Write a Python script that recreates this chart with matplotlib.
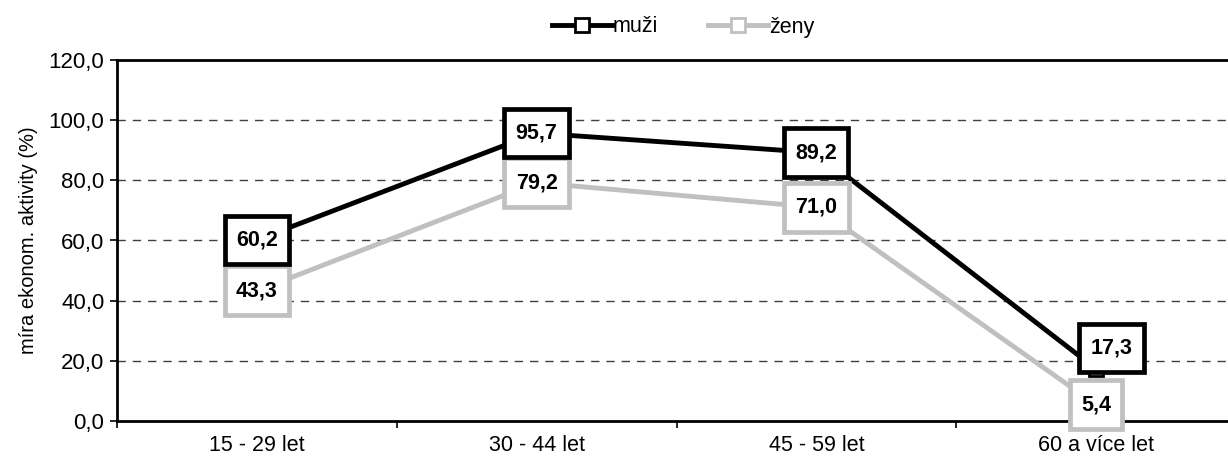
import matplotlib
matplotlib.use('Agg')
import matplotlib.pyplot as plt
from matplotlib.lines import Line2D
from matplotlib.path import Path

#-----Data-----#
categories = ['15 - 29 let', '30 - 44 let', '45 - 59 let', '60 a více let']
muzi = [60.2, 95.7, 89.2, 17.3]
zeny = [43.3, 79.2, 71.0, 5.4]
yticks = [0, 20, 40, 60, 80, 100, 120]

plt.rcParams['font.family'] = ['Liberation Sans', 'DejaVu Sans']

GRAY = '#c0c0c0'
FS = 15.5

# rectangular label box, wider padding vertically than horizontally
def tall_box(x0, y0, width, height, mutation_size):
    hp = 0.52 * mutation_size
    vp = 0.64 * mutation_size
    x0, y0 = x0 - hp, y0 - vp
    x1, y1 = x0 + width + 2 * hp, y0 + height + 2 * vp
    return Path([(x0, y0), (x1, y0), (x1, y1), (x0, y1), (x0, y0)], closed=True)

fig = plt.figure(figsize=(12.28, 4.61), dpi=100)
# plot area runs past the right edge of the picture, as in the reference
ax = fig.add_axes([117/1228, 40/461, 1119/1228, 361/461])

x = [i + 0.5 for i in range(len(categories))]

ax.plot(x, zeny, color=GRAY, lw=3.5, marker='s', ms=10, mfc='white', mec=GRAY, mew=2, zorder=3)
ax.plot(x, muzi, color='black', lw=3.5, marker='s', ms=10, mfc='white', mec='black', mew=2, zorder=4)

#-----Data labels in boxes-----#
def box_label(xv, yv, col, dx=0, dy=0, z=5):
    ax.annotate(f'{yv:.1f}'.replace('.', ','), (xv, yv), xytext=(dx, dy),
                textcoords='offset points', ha='center', va='center',
                fontsize=FS, fontweight='bold', zorder=z,
                bbox=dict(boxstyle=tall_box, fc='white', ec=col, lw=3.4))

for i in range(len(categories)):
    box_label(x[i], zeny[i], GRAY, z=5)
    if i == 3:
        box_label(x[i], muzi[i], 'black', dx=11, dy=15, z=6)
    else:
        box_label(x[i], muzi[i], 'black', z=6)

#-----Axes-----#
ax.set_xlim(0, 4)
ax.set_ylim(0, 120)
ax.set_yticks(yticks)
ax.set_yticklabels([f'{v:.1f}'.replace('.', ',') for v in yticks], fontsize=16)
ax.set_xticks([0, 1, 2, 3, 4])
ax.set_xticklabels([])
ax.set_xticks(x, minor=True)
ax.set_xticklabels(categories, minor=True, fontsize=FS)
ax.tick_params(axis='x', which='minor', length=0, pad=10)
ax.tick_params(axis='x', which='major', length=5, width=1.2, direction='out')
ax.tick_params(axis='y', length=5, width=1.2, direction='out', pad=4)
ax.set_ylabel('míra ekonom. aktivity (%)', fontsize=14.5, labelpad=8)

for v in yticks[1:-1]:
    ax.axhline(v, color='#404040', lw=1, ls=(0, (6, 5)), zorder=1)

for s in ['left', 'bottom', 'top']:
    ax.spines[s].set_linewidth(2)
    ax.spines[s].set_color('black')
ax.spines['right'].set_visible(False)

#-----Legend-----#
handles = [Line2D([], [], color='black', lw=3.5, marker='s', ms=10, mfc='white', mec='black', mew=2),
           Line2D([], [], color=GRAY, lw=3.5, marker='s', ms=10, mfc='white', mec=GRAY, mew=2)]
fig.legend(handles, ['muži', 'ženy'], loc='center', bbox_to_anchor=(683/1228, 1 - 27/461),
           ncol=2, frameon=False, fontsize=FS, handlelength=2.8, handletextpad=0.05,
           columnspacing=2.3)

fig.savefig('out.png', dpi=100)
